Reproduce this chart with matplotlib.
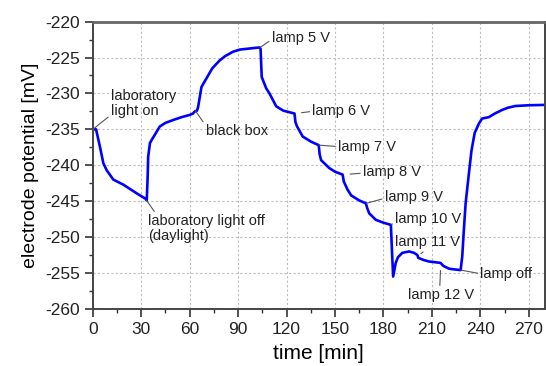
import matplotlib
matplotlib.use("Agg")
from matplotlib import pyplot as plt
from matplotlib.ticker import MultipleLocator

plt.rcParams['font.family'] = ['Liberation Sans', 'DejaVu Sans']
plt.rcParams['axes.unicode_minus'] = False

# time [min] and electrode potential [mV]
time_min = [0, 2, 4.4, 6.5, 8.6, 12.7, 18.9, 27.1, 32.9, 33.4,
            33.9, 34.3, 35.4, 36.4, 41.5, 45, 49.8, 55, 60, 62,
            63.2, 64.5, 65.2, 67.3, 70.4, 74, 78.6, 82, 86.8, 91,
            95, 99, 103.3, 103.9, 104.6, 107.4, 109.4, 113.6, 118, 124.9,
            125.5, 126.5, 130, 135, 139.9, 140.5, 141.4, 146.5, 150, 154.7,
            155.5, 157.8, 160, 165, 169.1, 170, 171.2, 175.3, 180, 184.6,
            185.3, 186, 187.6, 189, 191.7, 195.9, 199, 201, 201.6, 205,
            208.2, 212, 215.4, 217, 220.6, 224, 227.8, 228.8, 229.8, 230.9,
            232.5, 234.5, 236.5, 239.1, 241.1, 245.3, 249, 253.5, 257, 261.7,
            270, 279.5]
potential = [-235.0, -235.0, -237.4, -239.7, -240.7, -242.0, -242.7, -243.9, -244.7, -244.9,
             -242.0, -238.8, -236.9, -236.5, -234.6, -234.1, -233.7, -233.3, -233.0, -232.8,
             -232.5, -232.4, -231.9, -229.1, -227.9, -226.5, -225.4, -224.8, -224.2, -223.9,
             -223.8, -223.7, -223.6, -223.8, -227.7, -229.3, -230.0, -231.8, -232.4, -232.8,
             -234.0, -234.6, -236.0, -236.7, -237.2, -238.5, -239.3, -240.4, -240.9, -241.3,
             -242.3, -243.4, -244.2, -244.9, -245.3, -246.0, -246.7, -247.6, -248.0, -248.3,
             -252.0, -255.5, -253.6, -252.8, -252.2, -252.0, -252.2, -252.5, -252.9, -253.2,
             -253.4, -253.5, -253.6, -254.0, -254.4, -254.5, -254.6, -252.7, -249.0, -245.3,
             -242.0, -238.0, -235.5, -234.2, -233.5, -233.3, -232.8, -232.3, -232.0, -231.75,
             -231.65, -231.6]

# events: label, point on curve, text position, relpos of leader on text, gap
event_labels = ['laboratory\nlight on', 'black box', 'laboratory light off\n(daylight)',
                'lamp 5 V', 'lamp 6 V', 'lamp 7 V', 'lamp 8 V', 'lamp 9 V',
                'lamp 10 V', 'lamp 11 V', 'lamp 12 V', 'lamp off']
event_points = [(0, -235.0), (63.5, -232.4), (33.3, -244.9), (103.6, -223.6),
                (125.0, -232.8), (140.0, -237.2), (155.0, -241.3), (169.5, -245.3),
                (185.0, -248.3), (201.3, -252.7), (215.5, -253.7), (228.0, -254.6)]
event_text = [(11.2, -231.4), (70.0, -235.2), (34.2, -248.8), (110.8, -222.3),
              (136.0, -232.4), (151.9, -237.4), (167.3, -241.0), (180.8, -244.4),
              (187.2, -247.5), (187.2, -250.7), (195.2, -258.1), (240.0, -255.1)]
event_relpos = [(0.0, 0.1), (0.0, 0.85), (0.07, 1.0), (0.0, 0.4),
                (0.0, 0.45), (0.0, 0.5), (0.0, 0.45), (0.0, 0.4),
                (0.0, 0.4), (0.48, 0.0), (0.48, 1.0), (0.0, 0.5)]
event_gap = [0, 0, 0, 0, 5, 0, 5, 0, 0, 3, 5, 0]

fig = plt.figure(figsize=(5.46, 3.66), dpi=100)
ax = fig.add_axes([0.170, 0.156, 0.828, 0.785])

ax.plot(time_min, potential, color='#0000ff', lw=1.9)

for label, pt, txt, rp, gap in zip(event_labels, event_points, event_text,
                                   event_relpos, event_gap):
    ax.annotate(label, xy=pt, xytext=txt, fontsize=10.5, ha='left', va='center',
                color='#222222', linespacing=1.05,
                arrowprops=dict(arrowstyle='-', color='#555555', lw=0.8,
                                shrinkA=0, shrinkB=gap, relpos=rp))

ax.set_xlim(0, 280)
ax.set_ylim(-260, -220)
ax.xaxis.set_major_locator(MultipleLocator(30))
ax.xaxis.set_minor_locator(MultipleLocator(15))
ax.yaxis.set_major_locator(MultipleLocator(5))
ax.yaxis.set_minor_locator(MultipleLocator(2.5))
ax.grid(True, which='major', linestyle=(0, (2, 2)), color='#bdbdbd', lw=0.8)

ax.tick_params(which='major', direction='out', length=6, width=1.1,
               labelsize=12.5, colors='#222222')
ax.tick_params(which='minor', direction='out', length=3, width=1.0, colors='#333333')
for side in ax.spines.values():
    side.set_color('#444444')
    side.set_linewidth(1.4)
ax.spines['top'].set_color('#666666')
ax.spines['top'].set_linewidth(2.0)

ax.set_xlabel('time [min]', fontsize=15, labelpad=5)
ax.set_ylabel('electrode potential [mV]', fontsize=14, labelpad=4)

fig.savefig('out.png', dpi=100)
